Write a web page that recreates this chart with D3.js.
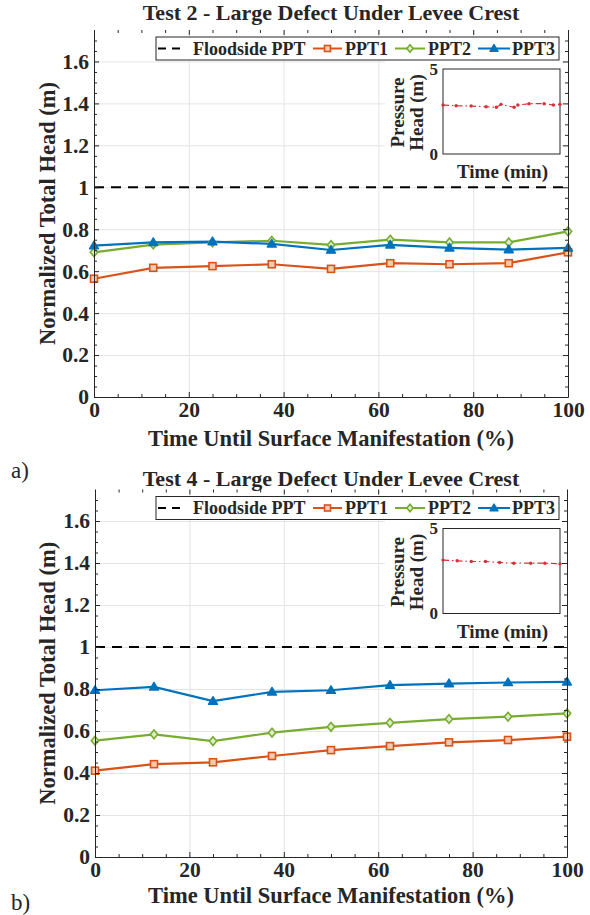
<!DOCTYPE html>
<html><head><meta charset="utf-8">
<script src="https://cdn.jsdelivr.net/npm/d3@7"></script>
<style>
body{margin:0;background:#fff}
svg{display:block}
text{font-family:"Liberation Serif","Times New Roman",serif;font-weight:bold;fill:#262626}
</style>
</head><body>
<svg id="chart" width="590" height="915"></svg>
<script>
// ---------- DATA ----------
const xPct = [0, 12.5, 25, 37.5, 50, 62.5, 75, 87.5, 100];
const seriesNames = ["PPT1", "PPT2", "PPT3"];
const floodsideLabel = "Floodside PPT";
const floodsideValue = 1;

// Test 2
const t2_ppt1 = [0.564, 0.616, 0.624, 0.633, 0.611, 0.638, 0.633, 0.638, 0.690];
const t2_ppt2 = [0.690, 0.727, 0.737, 0.745, 0.725, 0.750, 0.737, 0.737, 0.790];
const t2_ppt3 = [0.722, 0.737, 0.741, 0.730, 0.701, 0.725, 0.711, 0.703, 0.711];
// Test 4
const t4_ppt1 = [0.411, 0.442, 0.451, 0.481, 0.509, 0.528, 0.546, 0.557, 0.573];
const t4_ppt2 = [0.554, 0.584, 0.552, 0.592, 0.620, 0.639, 0.657, 0.668, 0.684];
const t4_ppt3 = [0.794, 0.810, 0.742, 0.786, 0.794, 0.818, 0.826, 0.831, 0.834];

// Insets (pressure head vs time, estimated)
const t2_insetTime = [0, 7, 15, 23, 28.5, 31, 38, 40, 46, 54, 59, 62.5];
const t2_insetHead = [2.88, 2.84, 2.82, 2.78, 2.75, 2.92, 2.75, 2.88, 2.96, 2.96, 2.88, 2.92];
const t4_insetTime = [0, 7.5, 15, 22.5, 30, 37.5, 46.5, 54, 62];
const t4_insetHead = [3.14, 3.10, 3.06, 3.06, 3.00, 2.96, 2.96, 2.96, 2.92];

const xTicks = [0, 20, 40, 60, 80, 100];
const xMinorTicks = [5, 10, 15, 25, 30, 35, 45, 50, 55, 65, 70, 75, 85, 90, 95];
const yTicks = [0, 0.2, 0.4, 0.6, 0.8, 1, 1.2, 1.4, 1.6];
const yTickLabels = ["0", "0.2", "0.4", "0.6", "0.8", "1", "1.2", "1.4", "1.6"];
const yMinorTicks = [0.05,0.1,0.15,0.25,0.3,0.35,0.45,0.5,0.55,0.65,0.7,0.75,0.85,0.9,0.95,1.05,1.1,1.15,1.25,1.3,1.35,1.45,1.5,1.55,1.65,1.7];
const insetYTicks = [0, 5];

const titles = ["Test 2 - Large Defect Under Levee Crest", "Test 4 - Large Defect Under Levee Crest"];
const panelLabels = ["a)", "b)"];
const xLabel = "Time Until Surface Manifestation (%)";
const yLabel = "Normalized Total Head (m)";
const insetXLabel = "Time (min)";
const insetYLabel = ["Pressure", "Head (m)"];

// ---------- STYLE ----------
const colors = ["#D95319", "#77AC30", "#0072BD"];
const axisColor = "#262626";
const gridColor = "#e4e4e4";
const insetColor = "#d7303a";
const serif = "'Liberation Serif','Times New Roman',serif";

const svg = d3.select("#chart");

const panels = [
  {title: titles[0], label: panelLabels[0], series: [t2_ppt1, t2_ppt2, t2_ppt3],
   inset: {t: t2_insetTime, h: t2_insetHead},
   left: 94, right: 568, top: 30, bottom: 397, titleY: 20, xLabY: 446, panelLabY: 478},
  {title: titles[1], label: panelLabels[1], series: [t4_ppt1, t4_ppt2, t4_ppt3],
   inset: {t: t4_insetTime, h: t4_insetHead},
   left: 95, right: 567, top: 489.5, bottom: 857, titleY: 486, xLabY: 903, panelLabY: 910}
];

function marker(g, type, x, y, color, size) {
  if (type === 0) {
    g.append("rect").attr("x", x - size/2).attr("y", y - size/2).attr("width", size).attr("height", size)
      .attr("fill", "#f6c9b0").attr("stroke", color).attr("stroke-width", 1.6);
  } else if (type === 1) {
    const s = size * 0.62;
    g.append("path").attr("d", `M${x},${y - s}L${x + s * 0.85},${y}L${x},${y + s}L${x - s * 0.85},${y}Z`)
      .attr("fill", "#dcecc6").attr("stroke", color).attr("stroke-width", 1.6);
  } else {
    const s = size / 2;
    g.append("path").attr("d", `M${x},${y - s}L${x + s},${y + s * 0.7}L${x - s},${y + s * 0.7}Z`)
      .attr("fill", color).attr("stroke", color).attr("stroke-width", 1.4).attr("stroke-linejoin", "round");
  }
}

panels.forEach((p) => {
  const g = svg.append("g");
  const x = d3.scaleLinear().domain([0, 100]).range([p.left, p.right]);
  const y = d3.scaleLinear().domain([0, 1.75]).range([p.bottom, p.top]);

  // grid
  g.append("g").attr("transform", `translate(0,${p.bottom})`)
    .call(d3.axisBottom(x).tickValues(xTicks).tickSize(-(p.bottom - p.top)).tickFormat(""))
    .call(a => a.select(".domain").remove())
    .call(a => a.selectAll("line").attr("stroke", gridColor));
  g.append("g").attr("transform", `translate(${p.left},0)`)
    .call(d3.axisLeft(y).tickValues(yTicks).tickSize(-(p.right - p.left)).tickFormat(""))
    .call(a => a.select(".domain").remove())
    .call(a => a.selectAll("line").attr("stroke", gridColor));

  // floodside reference
  g.append("line").attr("x1", x(0)).attr("x2", x(100)).attr("y1", y(floodsideValue)).attr("y2", y(floodsideValue))
    .attr("stroke", "#000").attr("stroke-width", 2).attr("stroke-dasharray", "10,7");

  // series
  const line = d3.line().x((d, i) => x(xPct[i])).y(d => y(d));
  p.series.forEach((vals, si) => {
    g.append("path").datum(vals).attr("d", line).attr("fill", "none")
      .attr("stroke", colors[si]).attr("stroke-width", 2.2);
  });
  p.series.forEach((vals, si) => {
    vals.forEach((v, i) => marker(g, si, x(xPct[i]), y(v), colors[si], si === 2 ? 9 : 7));
  });

  // axes
  const styleAxis = a => { a.selectAll("line").attr("stroke", axisColor); a.select(".domain").attr("stroke", axisColor); };
  const xb = g.append("g").attr("transform", `translate(0,${p.bottom})`)
    .call(d3.axisBottom(x).tickValues(xTicks).tickSizeInner(-5).tickSizeOuter(0).tickPadding(4));
  xb.call(styleAxis);
  xb.selectAll("text").attr("font-size", 21.5).attr("fill", axisColor).attr("dy", "0.76em");
  g.append("g").attr("transform", `translate(0,${p.bottom})`)
    .call(d3.axisBottom(x).tickValues(xMinorTicks).tickSize(-3).tickFormat(""))
    .call(a => a.select(".domain").remove()).call(styleAxis);
  const yl = g.append("g").attr("transform", `translate(${p.left},0)`)
    .call(d3.axisLeft(y).tickValues(yTicks).tickFormat((d, i) => yTickLabels[i]).tickSizeInner(-5).tickSizeOuter(0).tickPadding(5));
  yl.call(styleAxis);
  yl.selectAll("text").attr("font-size", 21.5).attr("fill", axisColor);
  g.append("g").attr("transform", `translate(${p.left},0)`)
    .call(d3.axisLeft(y).tickValues(yMinorTicks).tickSize(-3).tickFormat(""))
    .call(a => a.select(".domain").remove()).call(styleAxis);
  // mirrored top/right
  g.append("g").attr("transform", `translate(0,${p.top})`)
    .call(d3.axisTop(x).tickValues(xTicks).tickSize(-5).tickFormat(""))
    .call(a => a.select(".domain").remove()).call(styleAxis);
  g.append("g").attr("transform", `translate(0,${p.top})`)
    .call(d3.axisTop(x).tickValues(xMinorTicks).tickSize(-3).tickFormat(""))
    .call(a => a.select(".domain").remove()).call(styleAxis);
  g.append("g").attr("transform", `translate(${p.right},0)`)
    .call(d3.axisRight(y).tickValues(yTicks).tickSizeInner(-5).tickSizeOuter(0).tickFormat(""))
    .call(styleAxis);
  g.append("g").attr("transform", `translate(${p.right},0)`)
    .call(d3.axisRight(y).tickValues(yMinorTicks).tickSize(-3).tickFormat(""))
    .call(a => a.select(".domain").remove()).call(styleAxis);

  // title and labels
  g.append("text").attr("x", (p.left + p.right) / 2).attr("y", p.titleY).attr("text-anchor", "middle")
    .attr("font-size", 22).text(p.title);
  g.append("text").attr("x", (p.left + p.right) / 2).attr("y", p.xLabY).attr("text-anchor", "middle")
    .attr("font-size", 22.5).text(xLabel);
  g.append("text").attr("transform", `translate(55,${(p.top + p.bottom) / 2}) rotate(-90)`)
    .attr("text-anchor", "middle").attr("font-size", 22.5).text(yLabel);
  g.append("text").attr("x", 11).attr("y", p.panelLabY).attr("font-size", 23)
    .style("font-weight", "normal").attr("fill", "#111").text(p.label);

  // inset
  const ix0 = 443, ix1 = 560;
  const iy0 = p.top + 124, iy1 = p.top + 39;
  const ix = d3.scaleLinear().domain(d3.extent(p.inset.t)).range([ix0, ix1]);
  const iy = d3.scaleLinear().domain([0, 5]).range([iy0, iy1]);
  g.append("rect").attr("x", 385).attr("y", iy1 - 8).attr("width", ix1 - 385 + 2).attr("height", iy0 - iy1 + 38).attr("fill", "#fff");
  g.append("rect").attr("x", ix0).attr("y", iy1).attr("width", ix1 - ix0).attr("height", iy0 - iy1)
    .attr("fill", "#fff").attr("stroke", axisColor).attr("stroke-width", 1);
  const iline = d3.line().x((d, i) => ix(p.inset.t[i])).y(d => iy(d));
  g.append("path").datum(p.inset.h).attr("d", iline).attr("fill", "none")
    .attr("stroke", insetColor).attr("stroke-width", 1.2).attr("stroke-dasharray", "6,3,1.5,3");
  g.selectAll(null).data(p.inset.h).enter().append("circle")
    .attr("cx", (d, i) => ix(p.inset.t[i])).attr("cy", d => iy(d)).attr("r", 1.7).attr("fill", insetColor);
  g.append("g").attr("transform", `translate(${ix0},0)`)
    .call(d3.axisLeft(iy).tickValues(insetYTicks).tickFormat(d3.format("d")).tickSize(0).tickPadding(5))
    .call(a => a.select(".domain").remove())
    .call(a => a.selectAll("text").attr("font-size", 17).attr("fill", axisColor));
  g.append("text").attr("x", (ix0 + ix1) / 2 + 1).attr("y", iy0 + 24).attr("text-anchor", "middle")
    .attr("font-size", 19).text(insetXLabel);
  insetYLabel.forEach((t, k) => {
    g.append("text").attr("transform", `translate(${404 + k * 19},${(iy0 + iy1) / 2 + 1}) rotate(-90)`)
      .attr("text-anchor", "middle").attr("font-size", 19).text(t);
  });

  // legend
  const lt = p.top + 7, lb = p.top + 30, ll = 156, lr = 559;
  g.append("rect").attr("x", ll).attr("y", lt).attr("width", lr - ll).attr("height", lb - lt)
    .attr("fill", "#fff").attr("stroke", axisColor).attr("stroke-width", 1);
  const ly = (lt + lb) / 2;
  g.append("line").attr("x1", 158).attr("x2", 182).attr("y1", ly).attr("y2", ly)
    .attr("stroke", "#000").attr("stroke-width", 2).attr("stroke-dasharray", "8,6");
  g.append("text").attr("x", 193).attr("y", ly + 6).attr("font-size", 18).text(floodsideLabel);
  const items = [{x1: 313, x2: 342, tx: 345}, {x1: 395, x2: 425, tx: 428}, {x1: 478, x2: 510, tx: 512}];
  items.forEach((it, si) => {
    g.append("line").attr("x1", it.x1).attr("x2", it.x2).attr("y1", ly).attr("y2", ly)
      .attr("stroke", colors[si]).attr("stroke-width", 2);
    marker(g, si, (it.x1 + it.x2) / 2, ly, colors[si], si === 2 ? 8 : 6);
    g.append("text").attr("x", it.tx).attr("y", ly + 6).attr("font-size", 18).text(seriesNames[si]);
  });
});
svg.selectAll("text").attr("font-family", serif).style("font-family", serif);
</script>
</body></html>
